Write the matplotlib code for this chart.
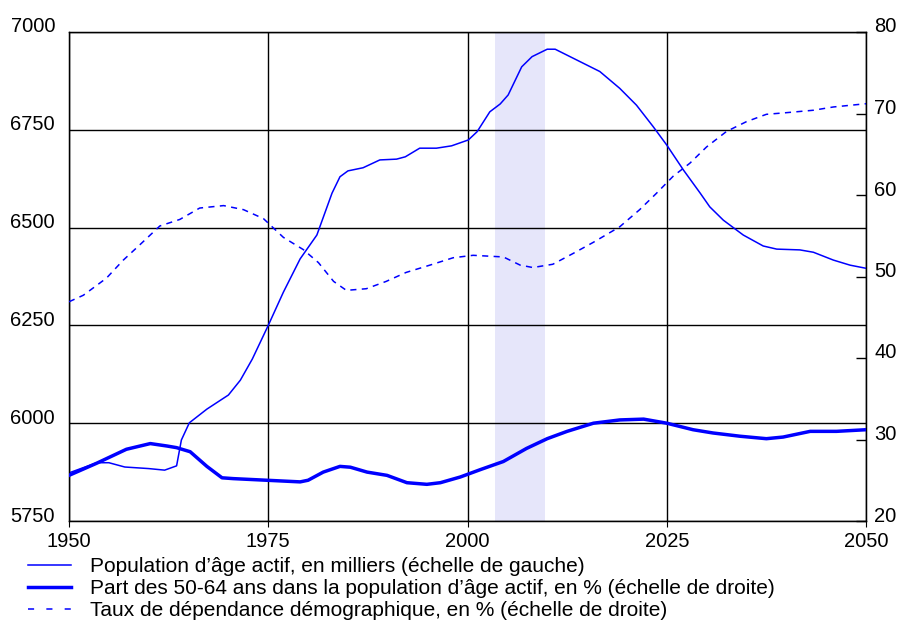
import matplotlib
matplotlib.use("Agg")
import matplotlib.pyplot as plt
from matplotlib.lines import Line2D
from matplotlib.transforms import ScaledTranslation

plt.rcParams["font.family"] = ["Liberation Sans", "DejaVu Sans"]

# population d'age actif, en milliers (echelle de gauche)
pop_years = [1950, 1953.5, 1955, 1957, 1960, 1962, 1963.5, 1964.1, 1965.1, 1967.3,
             1970, 1971.5, 1973, 1975, 1976.9, 1979, 1981.1, 1983, 1984, 1985,
             1986.9, 1989, 1991.1, 1992.2, 1994, 1996.1, 1998, 2000.1, 2001.2, 2002.8,
             2004.1, 2005.1, 2006.8, 2008.1, 2010, 2011, 2016.6, 2019.1, 2021.2, 2023.3,
             2025, 2027.1, 2029.2, 2030.4, 2032.1, 2034.6, 2037.1, 2038.8, 2041.7, 2043.4,
             2045.9, 2048, 2050]
pop_values = [5873, 5899, 5899, 5888, 5884, 5880, 5891, 5957, 6001, 6036,
              6072, 6110, 6164, 6250, 6335, 6420, 6481, 6588, 6630, 6645,
              6653, 6673, 6675, 6681, 6703, 6703, 6709, 6724, 6745, 6796,
              6816, 6839, 6911, 6937, 6956, 6956, 6899, 6856, 6813, 6758,
              6711, 6647, 6588, 6553, 6519, 6481, 6453, 6445, 6443, 6437,
              6417, 6404, 6396]

# part des 50-64 ans, en % (echelle de droite)
share_years = [1950, 1953.5, 1957.2, 1960.2, 1962.3, 1963.5, 1965.2, 1967.3, 1969.2, 1970.6,
               1974.8, 1979, 1980, 1981.9, 1984, 1985.3, 1987.4, 1989.9, 1992.4, 1994.9,
               1996.6, 1999.1, 2001.6, 2004.5, 2007.4, 2010, 2012.5, 2015.8, 2019.1, 2022.1,
               2025, 2028.3, 2030.8, 2034.2, 2037.5, 2039.6, 2043, 2046.3, 2050]
share_values = [25.6, 27.1, 28.8, 29.5, 29.2, 29.0, 28.5, 26.7, 25.3, 25.2,
                25.0, 24.8, 25.0, 26.0, 26.7, 26.6, 26.0, 25.6, 24.7, 24.5,
                24.7, 25.4, 26.3, 27.3, 28.9, 30.1, 31.0, 32.0, 32.4, 32.5,
                32.0, 31.2, 30.8, 30.4, 30.1, 30.3, 31.0, 31.0, 31.2]

# taux de dependance demographique, en % (echelle de droite)
dep_years = [1950, 1951.8, 1954.7, 1956.8, 1958.9, 1961.4, 1963.9, 1966.4, 1969.4, 1971.9,
             1974.4, 1976.9, 1979.4, 1981.3, 1983.2, 1984.8, 1987.3, 1989.8, 1992.3, 1995.3,
             1998.2, 2000.7, 2004.5, 2006.6, 2008.2, 2010.7, 2013.2, 2015.8, 2019.1, 2021.6,
             2023.7, 2025.8, 2027.9, 2030, 2032.5, 2035, 2037.5, 2040, 2043.4, 2045.9, 2050]
dep_values = [46.9, 47.7, 49.8, 52.0, 53.9, 56.2, 57.0, 58.4, 58.7, 58.2,
              57.1, 54.8, 53.3, 51.7, 49.4, 48.3, 48.5, 49.4, 50.5, 51.4,
              52.3, 52.6, 52.4, 51.4, 51.1, 51.5, 52.8, 54.2, 56.1, 58.2,
              60.2, 62.3, 63.9, 65.9, 67.8, 69.0, 69.9, 70.1, 70.4, 70.8, 71.2]

band = (2003.5, 2009.7)
x_ticks = [1950, 1975, 2000, 2025, 2050]
left_ticks = [5750, 6000, 6250, 6500, 6750, 7000]
right_ticks = [20, 30, 40, 50, 60, 70, 80]

labels = [
    "Population d\u2019âge actif, en milliers (échelle de gauche)",
    "Part des 50-64 ans dans la population d\u2019âge actif, en % (échelle de droite)",
    "Taux de dépendance démographique, en % (échelle de droite)",
]

BLUE = "#0000ff"

fig = plt.figure(figsize=(9.19, 6.2), dpi=100)
ax = fig.add_axes([69 / 919, 1 - 521 / 620, 797 / 919, 489 / 620])

ax.axvspan(band[0], band[1], color="#e6e6fa", zorder=0, lw=0)
ax.plot(pop_years, pop_values, color=BLUE, lw=1.1, zorder=3)

ax.set_xlim(1950, 2050)
ax.set_ylim(5750, 7000)
ax.set_xticks(x_ticks)
ax.set_yticks(left_ticks)
ax.grid(True, color="black", lw=1.0, zorder=1)
ax.set_axisbelow(False)
ax.tick_params(axis="y", length=0, pad=10, labelsize=14.5)
ax.tick_params(axis="x", length=4, pad=4, labelsize=14.5)
for spine in ax.spines.values():
    spine.set_linewidth(1.0)

ax2 = ax.twinx()
ax2.plot(share_years, share_values, color=BLUE, lw=2.5, zorder=3)
ax2.plot(dep_years, dep_values, color=BLUE, lw=1.1, ls=(0, (4, 3.5)), zorder=3)
ax2.set_ylim(20, 80)
ax2.set_yticks(right_ticks)
ax2.tick_params(axis="y", direction="in", length=7.5, width=1.0, pad=6, labelsize=14.5)

shift = ScaledTranslation(0, 7 / 100, fig.dpi_scale_trans)
for lab in ax.get_yticklabels() + ax2.get_yticklabels():
    lab.set_transform(lab.get_transform() + shift)

handles = [
    Line2D([], [], color=BLUE, lw=1.1),
    Line2D([], [], color=BLUE, lw=2.5),
    Line2D([], [], color=BLUE, lw=1.1, ls=(0, (4, 8))),
]
fig.legend(handles, labels, loc="upper left", bbox_to_anchor=(28 / 919, 1 - 557 / 620),
           frameon=False, fontsize=15, handlelength=2.07, handletextpad=0.9,
           labelspacing=0.15, borderpad=0, borderaxespad=0)

fig.savefig("out.png", dpi=100)
